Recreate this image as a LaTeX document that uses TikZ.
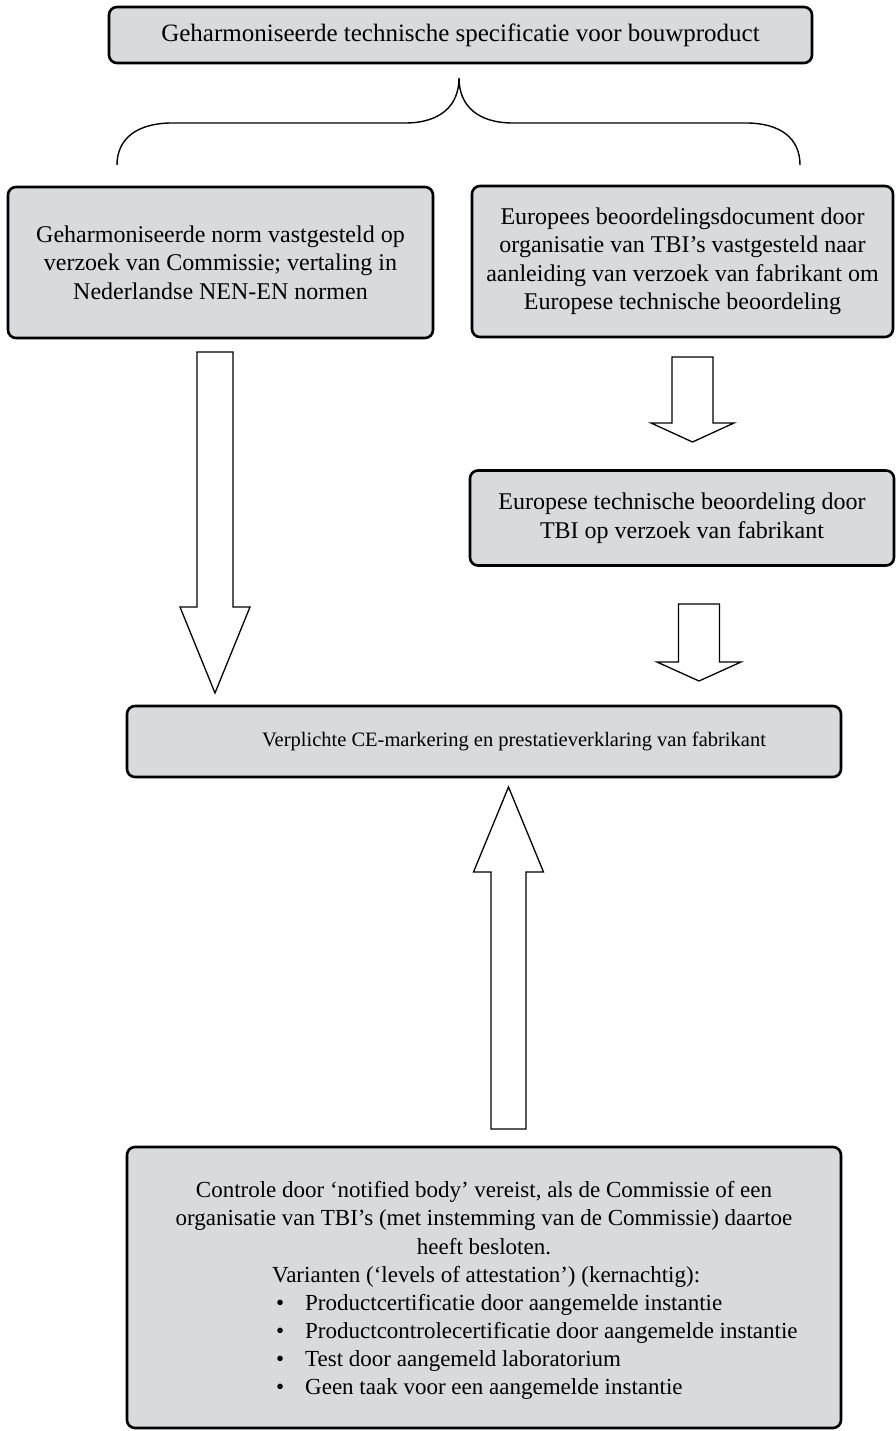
\documentclass[tikz,border=0pt]{standalone}
\usepackage{fontspec}
\setmainfont{Liberation Serif}
\definecolor{boxgray}{HTML}{D9DADC}
\newcommand{\blockarr}[6]{% centre x, tail y, shoulder y, tip y, half shaft, half head
  \draw[blockarrow] ({#1-#5},#2) -- ({#1+#5},#2) -- ({#1+#5},#3) -- ({#1+#6},#3)
    -- (#1,#4) -- ({#1-#6},#3) -- ({#1-#5},#3) -- cycle;}
\begin{document}
\begin{tikzpicture}[x=1pt,y=-1pt,
  box/.style={draw=black, fill=boxgray, line width=2.6pt, rounded corners=8pt,
    inner sep=0pt, align=center, font=\fontsize{24}{28.5}\selectfont},
  blockarrow/.style={draw=black, fill=white, line width=1.3pt, line join=miter},
  brace/.style={draw=black, line width=1.4pt},
  txt/.style={inner sep=0pt, align=center, font=\fontsize{23}{28.3}\selectfont},
  item/.style={inner sep=0pt, anchor=base west, font=\fontsize{23}{28.3}\selectfont}]
\useasboundingbox (0,0) rectangle (896,1431);

% boxes
\node[box, minimum width=703pt, minimum height=56pt, font=\fontsize{25}{28.5}\selectfont]
  (spec) at (460.5,35) {Geharmoniseerde technische specificatie voor bouwproduct};
\node[box, minimum width=425pt, minimum height=151pt] (norm) at (220.5,262.5)
  {Geharmoniseerde norm vastgesteld op\\verzoek van Commissie; vertaling in\\Nederlandse NEN-EN normen};
\node[box, minimum width=421pt, minimum height=151pt] (ead) at (682.5,261.5)
  {Europees beoordelingsdocument door\\organisatie van TBI’s vastgesteld naar\\aanleiding van verzoek van fabrikant om\\Europese technische beoordeling};
\node[box, minimum width=424pt, minimum height=95pt] (eta) at (682,518)
  {Europese technische beoordeling door\\TBI op verzoek van fabrikant};
\node[box, minimum width=714pt, minimum height=71pt] (ce) at (484,741.5) {};
\node[txt, font=\fontsize{20.5}{28}\selectfont] (cetext) at (514,741.5)
  {Verplichte CE-markering en prestatieverklaring van fabrikant};
\node[box, minimum width=714pt, minimum height=281pt] (ctrl) at (484,1287.5) {};

% text of the control box
\node[txt] (ctrltext) at (484,1218)
  {Controle door ‘notified body’ vereist, als de Commissie of een\\organisatie van TBI’s (met instemming van de Commissie) daartoe\\heeft besloten.};
\node[item] (var) at (272,1282) {Varianten (‘levels of attestation’) (kernachtig):};
\foreach \t [count=\i] in {Productcertificatie door aangemelde instantie,
    Productcontrolecertificatie door aangemelde instantie,
    Test door aangemeld laboratorium,
    Geen taak voor een aangemelde instantie}{
  \node[item] (b\i) at (276,{1282+28*\i}) {•};
  \node[item] (l\i) at (305,{1282+28*\i}) {\t};
}

% brace under the specification box
\coordinate (bl) at (117,165);
\coordinate (bt) at (459,78);
\coordinate (br) at (800,165);
\draw[brace] (bl) .. controls (117,138) and (138,123) .. (172,123) -- (405,123)
  .. controls (440,123) and (459,106) .. (bt)
  .. controls (459,106) and (478,123) .. (513,123) -- (746,123)
  .. controls (780,123) and (800,138) .. (br);

% block arrows
\blockarr{215}{352}{607}{693}{18}{35}
\blockarr{692.5}{357}{423}{442}{20.5}{41.5}
\blockarr{699}{604}{662}{681}{20.5}{42}
\blockarr{508.5}{1129}{872}{787}{17.5}{35}
\end{tikzpicture}
\end{document}
